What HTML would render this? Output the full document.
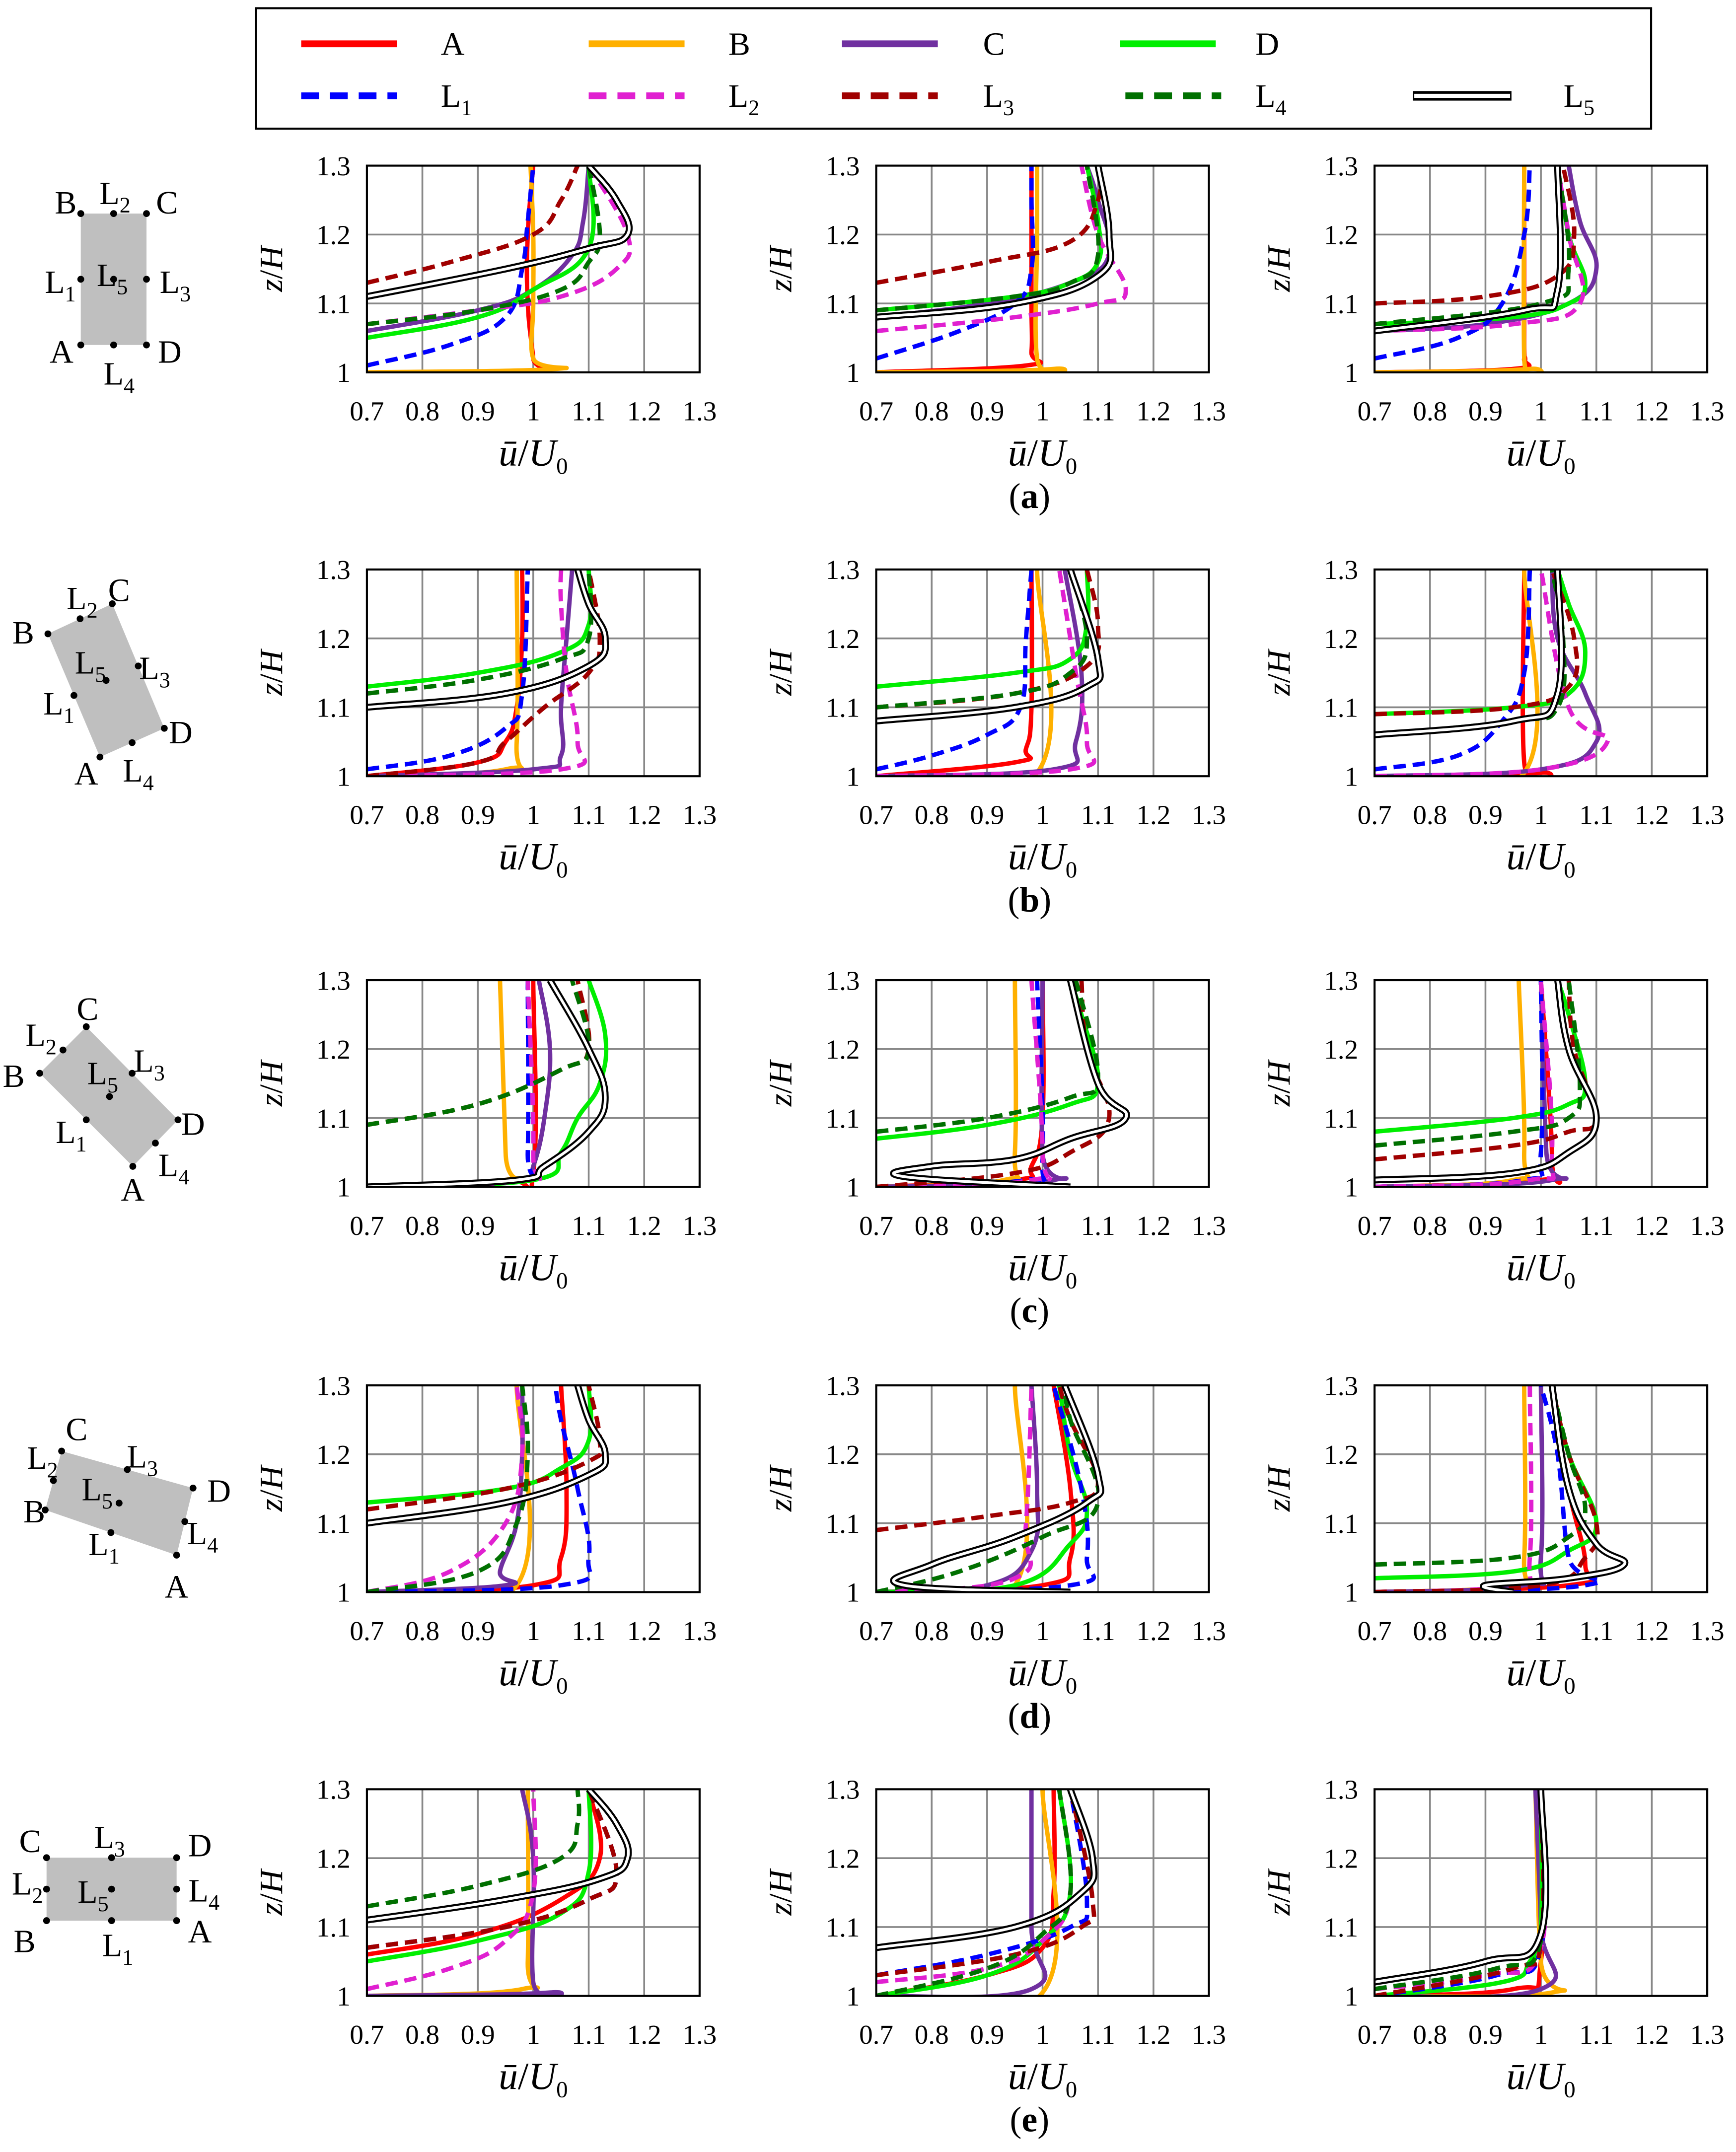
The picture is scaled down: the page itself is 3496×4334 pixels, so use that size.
<!DOCTYPE html>
<html><head><meta charset="utf-8"><style>
html,body{margin:0;padding:0;background:#fff;}
svg{display:block;}
text{font-family:"Liberation Serif",serif;fill:#000;}
</style></head><body>
<svg id="fig" xmlns="http://www.w3.org/2000/svg" width="3496" height="4334" viewBox="0 0 1268 1572" preserveAspectRatio="none">
<rect x="0" y="0" width="1268" height="1572" fill="#fff"/>
<g id="legend"></g>
<g id="schem"></g>
<g id="plots"></g>
</svg>
<script>
// Panel order: a1,a2,a3,b1,b2,b3,c1,c2,c3,d1,d2,d3,e1,e2,e3 ; points are [u/U0, z/H]
const xTicks = [0.7,0.8,0.9,1,1.1,1.2,1.3];
const yTicks = [1,1.1,1.2,1.3];
const xTickLabels = ["0.7","0.8","0.9","1","1.1","1.2","1.3"];
const yTickLabels = ["1","1.1","1.2","1.3"];
const panelLetters = ["(a)","(b)","(c)","(d)","(e)"];
const seriesNames = ["A","B","C","D","L1","L2","L3","L4","L5"];
const seriesA = [
[[0.7,1.0],[1.0,1.003],[1.0,1.02],[0.99,1.1],[0.99,1.2],[1.0,1.3]],
[[0.7,1.0],[0.97,1.01],[0.98,1.03],[0.98,1.1],[0.98,1.2],[0.98,1.3]],
[[0.7,1.0],[0.95,1.005],[0.97,1.02],[0.97,1.05],[0.97,1.3]],
[[0.7,1.0],[0.9,1.02],[0.95,1.05],[0.97,1.1],[0.98,1.2],[0.98,1.3]],
[[0.7,1.0],[0.95,1.02],[0.97,1.04],[0.98,1.1],[0.98,1.3]],
[[0.7,1.0],[1.0,1.005],[0.97,1.02],[0.97,1.3]],
[[0.7,1.0],[0.95,1.01],[1.0,1.02],[1.0,1.3]],
[[0.7,1.0],[0.95,1.01],[0.98,1.03],[1.0,1.1],[1.0,1.3]],
[[0.7,1.0],[1.0,1.01],[1.02,1.04],[1.0,1.3]],
[[0.7,1.0],[1.0,1.01],[1.05,1.05],[1.06,1.15],[1.05,1.3]],
[[0.7,1.0],[1.0,1.01],[1.05,1.05],[1.05,1.15],[1.02,1.3]],
[[0.7,1.0],[1.05,1.01],[1.08,1.04],[1.05,1.15],[1.02,1.3]],
[[0.7,1.06],[0.9,1.09],[1.05,1.14],[1.12,1.2],[1.1,1.3]],
[[0.7,1.0],[0.9,1.03],[1.0,1.07],[1.02,1.15],[1.02,1.3]],
[[0.7,1.0],[0.95,1.01],[1.0,1.05],[1.0,1.3]]];
const seriesB = [
[[0.7,1.0],[1.04,1.005],[1.0,1.02],[1.0,1.1],[1.0,1.2],[0.995,1.3]],
[[0.7,1.0],[1.02,1.005],[0.99,1.02],[0.99,1.2],[0.99,1.3]],
[[0.7,1.0],[0.98,1.005],[0.97,1.02],[0.97,1.3]],
[[0.7,1.0],[0.95,1.01],[0.97,1.05],[0.97,1.3]],
[[0.7,1.0],[0.99,1.005],[0.99,1.3]],
[[0.7,1.0],[0.97,1.005],[0.97,1.3]],
[[0.7,1.0],[0.95,1.01],[0.95,1.05],[0.94,1.3]],
[[0.7,1.0],[0.93,1.01],[0.95,1.05],[0.95,1.3]],
[[0.7,1.0],[0.95,1.01],[0.97,1.05],[0.96,1.3]],
[[0.7,1.0],[0.97,1.01],[0.97,1.3]],
[[0.7,1.0],[0.95,1.01],[0.95,1.3]],
[[0.7,1.0],[0.95,1.01],[0.97,1.05],[0.97,1.3]],
[[0.7,1.0],[0.98,1.01],[0.99,1.05],[0.99,1.3]],
[[0.7,1.0],[1.0,1.005],[1.0,1.3]],
[[0.7,1.0],[1.02,1.005],[1.0,1.05],[0.99,1.3]]];
const seriesC = [
[[0.7,1.06],[0.9,1.09],[1.0,1.12],[1.07,1.17],[1.09,1.22],[1.1,1.3]],
[[0.7,1.08],[0.9,1.1],[1.05,1.13],[1.12,1.17],[1.1,1.25],[1.08,1.3]],
[[0.7,1.06],[0.9,1.07],[1.05,1.1],[1.1,1.15],[1.07,1.22],[1.05,1.3]],
[[0.7,1.0],[1.0,1.01],[1.05,1.03],[1.05,1.1],[1.06,1.2],[1.07,1.3]],
[[0.7,1.0],[1.02,1.01],[1.06,1.05],[1.07,1.15],[1.04,1.3]],
[[0.7,1.0],[1.0,1.01],[1.1,1.05],[1.08,1.12],[1.03,1.2],[1.02,1.3]],
[[0.7,1.0],[0.98,1.01],[1.0,1.03],[1.02,1.1],[1.03,1.2],[1.01,1.3]],
[[0.7,1.0],[1.02,1.01],[1.0,1.05],[1.0,1.3]],
[[0.7,1.0],[1.02,1.01],[1.01,1.05],[1.0,1.3]],
[[0.7,1.0],[0.95,1.01],[0.94,1.03],[0.97,1.1],[0.98,1.2],[0.98,1.3]],
[[0.7,1.0],[0.9,1.01],[0.98,1.06],[0.99,1.15],[0.98,1.3]],
[[0.7,1.0],[0.97,1.01],[1.0,1.05],[1.0,1.3]],
[[0.7,1.0],[1.03,1.005],[1.0,1.02],[1.0,1.2],[0.98,1.3]],
[[0.7,1.0],[0.98,1.01],[0.98,1.1],[0.98,1.3]],
[[0.7,1.0],[1.0,1.01],[1.0,1.1],[0.99,1.3]]];
const seriesD = [
[[0.7,1.05],[0.9,1.08],[1.0,1.12],[1.1,1.18],[1.1,1.3]],
[[0.7,1.09],[0.95,1.11],[1.05,1.13],[1.1,1.16],[1.1,1.22],[1.08,1.3]],
[[0.7,1.07],[0.95,1.08],[1.05,1.1],[1.08,1.13],[1.05,1.2],[1.03,1.3]],
[[0.7,1.13],[0.9,1.15],[1.05,1.18],[1.1,1.22],[1.1,1.3]],
[[0.7,1.13],[0.95,1.15],[1.05,1.17],[1.08,1.22],[1.08,1.3]],
[[0.7,1.09],[0.95,1.1],[1.05,1.12],[1.08,1.18],[1.05,1.25],[1.03,1.3]],
[[0.7,1.0],[1.0,1.01],[1.05,1.05],[1.08,1.1],[1.12,1.15],[1.13,1.22],[1.1,1.3]],
[[0.7,1.07],[0.9,1.09],[1.05,1.12],[1.1,1.15],[1.07,1.25],[1.05,1.3]],
[[0.7,1.08],[0.95,1.1],[1.05,1.12],[1.08,1.15],[1.05,1.25],[1.03,1.3]],
[[0.7,1.13],[0.95,1.15],[1.05,1.18],[1.1,1.22],[1.1,1.3]],
[[0.7,1.0],[0.95,1.01],[1.05,1.07],[1.08,1.12],[1.05,1.2],[1.03,1.3]],
[[0.7,1.02],[0.95,1.03],[1.05,1.06],[1.1,1.1],[1.05,1.2],[1.02,1.3]],
[[0.7,1.05],[0.9,1.08],[1.05,1.12],[1.1,1.18],[1.1,1.3]],
[[0.7,1.0],[0.9,1.03],[1.0,1.08],[1.05,1.15],[1.03,1.3]],
[[0.7,1.0],[0.93,1.02],[0.98,1.05],[1.0,1.1],[1.0,1.3]]];
const seriesL1 = [
[[0.7,1.01],[0.85,1.04],[0.95,1.08],[0.98,1.15],[0.99,1.22],[1.0,1.3]],
[[0.7,1.02],[0.85,1.06],[0.95,1.1],[0.98,1.15],[0.98,1.25],[0.98,1.3]],
[[0.7,1.02],[0.85,1.05],[0.93,1.1],[0.97,1.2],[0.98,1.3]],
[[0.7,1.01],[0.85,1.03],[0.95,1.07],[0.98,1.12],[0.99,1.3]],
[[0.7,1.01],[0.8,1.03],[0.9,1.06],[0.96,1.1],[0.97,1.2],[0.98,1.3]],
[[0.7,1.01],[0.85,1.03],[0.93,1.08],[0.97,1.15],[0.98,1.3]],
[[0.7,1.0],[0.98,1.01],[0.99,1.05],[0.99,1.3]],
[[0.7,1.0],[0.97,1.01],[1.0,1.04],[0.99,1.3]],
[[0.7,1.0],[0.97,1.01],[1.0,1.05],[1.0,1.3]],
[[0.7,1.0],[1.05,1.01],[1.1,1.05],[1.08,1.15],[1.05,1.25],[1.04,1.3]],
[[0.7,1.0],[1.05,1.01],[1.08,1.05],[1.07,1.15],[1.02,1.3]],
[[0.7,1.0],[1.08,1.01],[1.05,1.05],[1.03,1.2],[1.0,1.3]],
[[0.7,1.07],[0.95,1.1],[1.1,1.14],[1.15,1.18],[1.1,1.3]],
[[0.7,1.03],[0.9,1.06],[1.05,1.1],[1.08,1.14],[1.05,1.3]],
[[0.7,1.0],[0.92,1.03],[1.0,1.07],[1.0,1.3]]];
const seriesL2 = [
[[0.7,1.07],[0.9,1.09],[1.05,1.11],[1.15,1.15],[1.17,1.2],[1.1,1.3]],
[[0.7,1.06],[0.95,1.08],[1.1,1.1],[1.15,1.12],[1.1,1.2],[1.07,1.3]],
[[0.7,1.06],[0.95,1.07],[1.07,1.1],[1.05,1.2],[1.03,1.3]],
[[0.7,1.0],[1.05,1.01],[1.08,1.05],[1.06,1.15],[1.05,1.25],[1.05,1.3]],
[[0.7,1.0],[1.05,1.01],[1.08,1.05],[1.06,1.15],[1.03,1.3]],
[[0.7,1.0],[1.0,1.01],[1.12,1.05],[1.05,1.1],[1.0,1.3]],
[[0.7,1.0],[0.98,1.01],[1.0,1.05],[0.99,1.3]],
[[0.7,1.0],[0.98,1.01],[1.0,1.05],[0.98,1.3]],
[[0.7,1.0],[0.98,1.01],[1.02,1.05],[1.0,1.3]],
[[0.7,1.0],[0.85,1.03],[0.95,1.1],[0.98,1.2],[0.97,1.3]],
[[0.7,1.0],[0.95,1.02],[0.97,1.1],[0.98,1.3]],
[[0.7,1.0],[0.95,1.01],[0.98,1.05],[0.98,1.3]],
[[0.7,1.01],[0.85,1.04],[0.95,1.08],[1.0,1.15],[1.0,1.3]],
[[0.7,1.02],[0.9,1.04],[1.0,1.08],[1.05,1.15],[1.03,1.3]],
[[0.7,1.01],[0.9,1.03],[1.0,1.07],[1.0,1.3]]];
const seriesL3 = [
[[0.7,1.13],[0.85,1.16],[1.0,1.2],[1.05,1.25],[1.08,1.3]],
[[0.7,1.13],[0.9,1.16],[1.05,1.19],[1.1,1.25],[1.1,1.3]],
[[0.7,1.1],[0.9,1.11],[1.03,1.14],[1.06,1.2],[1.04,1.3]],
[[0.7,1.0],[0.9,1.02],[0.95,1.05],[1.02,1.1],[1.1,1.15],[1.12,1.2],[1.1,1.3]],
[[0.7,1.1],[0.95,1.12],[1.08,1.16],[1.1,1.22],[1.08,1.3]],
[[0.7,1.09],[0.95,1.1],[1.05,1.13],[1.06,1.2],[1.02,1.3]],
[[0.7,1.09],[0.9,1.12],[1.05,1.17],[1.1,1.2],[1.08,1.3]],
[[0.7,1.0],[0.95,1.02],[1.05,1.05],[1.12,1.1],[1.08,1.2],[1.07,1.3]],
[[0.7,1.04],[0.95,1.06],[1.05,1.08],[1.1,1.1],[1.06,1.2],[1.05,1.3]],
[[0.7,1.12],[0.95,1.15],[1.1,1.19],[1.12,1.22],[1.1,1.3]],
[[0.7,1.09],[0.9,1.11],[1.05,1.13],[1.1,1.16],[1.05,1.25],[1.03,1.3]],
[[0.7,1.0],[1.0,1.01],[1.08,1.05],[1.1,1.1],[1.05,1.2],[1.02,1.3]],
[[0.7,1.07],[0.95,1.1],[1.1,1.14],[1.15,1.18],[1.1,1.3]],
[[0.7,1.03],[0.95,1.06],[1.07,1.1],[1.09,1.14],[1.05,1.3]],
[[0.7,1.0],[0.95,1.04],[1.0,1.08],[1.0,1.3]]];
const seriesL4 = [
[[0.7,1.07],[0.9,1.09],[1.05,1.12],[1.1,1.16],[1.12,1.2],[1.1,1.3]],
[[0.7,1.09],[0.95,1.11],[1.05,1.13],[1.1,1.17],[1.08,1.3]],
[[0.7,1.07],[1.0,1.1],[1.05,1.15],[1.03,1.3]],
[[0.7,1.12],[0.9,1.14],[1.05,1.17],[1.1,1.2],[1.1,1.3]],
[[0.7,1.1],[0.95,1.12],[1.05,1.15],[1.08,1.2],[1.05,1.3]],
[[0.7,1.06],[0.95,1.08],[1.03,1.1],[1.04,1.2],[1.02,1.3]],
[[0.7,1.09],[0.9,1.12],[1.05,1.17],[1.1,1.2],[1.07,1.3]],
[[0.7,1.08],[0.9,1.1],[1.05,1.13],[1.1,1.16],[1.06,1.3]],
[[0.7,1.06],[0.95,1.08],[1.05,1.1],[1.07,1.15],[1.05,1.3]],
[[0.7,1.0],[0.9,1.03],[0.97,1.1],[0.99,1.2],[0.98,1.3]],
[[0.7,1.0],[0.85,1.03],[1.0,1.08],[1.1,1.13],[1.05,1.25],[1.04,1.3]],
[[0.7,1.04],[0.95,1.05],[1.05,1.08],[1.08,1.12],[1.05,1.2],[1.02,1.3]],
[[0.7,1.13],[0.9,1.16],[1.05,1.2],[1.08,1.25],[1.08,1.3]],
[[0.7,1.0],[0.9,1.04],[1.0,1.09],[1.05,1.15],[1.03,1.3]],
[[0.7,1.01],[0.92,1.04],[1.0,1.08],[1.0,1.3]]];
const seriesL5 = [
[[0.7,1.11],[0.95,1.15],[1.1,1.18],[1.17,1.2],[1.15,1.25],[1.1,1.3]],
[[0.7,1.08],[0.95,1.1],[1.1,1.14],[1.12,1.2],[1.1,1.3]],
[[0.7,1.06],[0.97,1.09],[1.03,1.12],[1.03,1.3]],
[[0.7,1.1],[0.95,1.12],[1.1,1.16],[1.13,1.2],[1.1,1.25],[1.08,1.3]],
[[0.7,1.08],[0.95,1.1],[1.08,1.13],[1.1,1.17],[1.05,1.3]],
[[0.7,1.06],[0.95,1.08],[1.03,1.12],[1.03,1.3]],
[[0.7,1.0],[0.97,1.01],[1.02,1.03],[1.1,1.08],[1.13,1.13],[1.1,1.2],[1.03,1.3]],
[[1.05,1.0],[0.75,1.015],[0.8,1.03],[0.95,1.04],[1.05,1.07],[1.15,1.1],[1.1,1.15],[1.05,1.3]],
[[0.7,1.01],[0.95,1.02],[1.05,1.05],[1.1,1.1],[1.05,1.2],[1.03,1.3]],
[[0.7,1.1],[0.95,1.13],[1.1,1.17],[1.13,1.2],[1.1,1.25],[1.08,1.3]],
[[1.05,1.0],[0.75,1.01],[0.8,1.04],[0.95,1.08],[1.08,1.13],[1.1,1.17],[1.04,1.3]],
[[0.95,1.0],[0.9,1.01],[1.05,1.02],[1.15,1.04],[1.1,1.07],[1.05,1.15],[1.02,1.3]],
[[0.7,1.11],[0.95,1.14],[1.12,1.17],[1.17,1.2],[1.15,1.25],[1.1,1.3]],
[[0.7,1.07],[0.95,1.1],[1.07,1.15],[1.09,1.2],[1.05,1.3]],
[[0.7,1.02],[0.9,1.05],[1.0,1.09],[1.0,1.3]]];
const allSeries = [seriesA,seriesB,seriesC,seriesD,seriesL1,seriesL2,seriesL3,seriesL4,seriesL5];
const colors = ["#ff0000","#ffb000","#7030a0","#00ee00","#0000ff","#e020d0","#a00000","#007000","#000000"];
const dashed = [false,false,false,false,true,true,true,true,false];

const NS="http://www.w3.org/2000/svg";
function mk(tag,attrs,parent){const e=document.createElementNS(NS,tag);for(const k in attrs)e.setAttribute(k,attrs[k]);parent.appendChild(e);return e;}
function txt(parent,x,y,s,size,anchor){const t=mk('text',{x:x,y:y,'font-size':size,'text-anchor':anchor||'middle'},parent);t.textContent=s;return t;}
function smoothPath(P){
  if(P.length<3) return 'M'+P.map(p=>p[0].toFixed(1)+','+p[1].toFixed(1)).join(' L');
  let d='M'+P[0][0].toFixed(1)+','+P[0][1].toFixed(1);
  for(let i=0;i<P.length-1;i++){
    const p0=P[i>0?i-1:0],p1=P[i],p2=P[i+1],p3=P[i+2<P.length?i+2:P.length-1];
    const k=0.2;
    const c1=[p1[0]+(p2[0]-p0[0])*k,p1[1]+(p2[1]-p0[1])*k];
    const c2=[p2[0]-(p3[0]-p1[0])*k,p2[1]-(p3[1]-p1[1])*k];
    d+=' C'+c1[0].toFixed(1)+','+c1[1].toFixed(1)+' '+c2[0].toFixed(1)+','+c2[1].toFixed(1)+' '+p2[0].toFixed(1)+','+p2[1].toFixed(1);
  }
  return d;
}

const colX=[268,640,1004], rowY=[121,416,716,1012,1307], PW=243, PH=151;
const plots=document.getElementById('plots');
const defs=mk('defs',{},document.getElementById('fig'));
for(let r=0;r<5;r++)for(let c=0;c<3;c++){
  const idx=r*3+c, x0=colX[c], y0=rowY[r];
  const sx=u=>x0+(u-0.7)/0.6*PW, sy=z=>y0+PH-(z-1)/0.3*PH;
  const g=mk('g',{},plots);
  
  
  const cp=mk('clipPath',{id:'cp'+idx},defs);
  mk('rect',{x:x0,y:y0,width:PW,height:PH},cp);
  xTicks.forEach((t,i)=>{
    if(i>0&&i<xTicks.length-1) mk('line',{x1:sx(t),x2:sx(t),y1:y0,y2:y0+PH,stroke:'#888','stroke-width':1.3},g);
    const l=txt(g,sx(t),y0+PH+35,xTickLabels[i],20);
    
    
  });
  yTicks.forEach((t,i)=>{
    if(i>0&&i<yTicks.length-1) mk('line',{x1:x0,x2:x0+PW,y1:sy(t),y2:sy(t),stroke:'#888','stroke-width':1.3},g);
    const l=txt(g,x0-12,sy(t)+7,yTickLabels[i],20,'end');
    
    
  });
  const lg=mk('g',{'clip-path':'url(#cp'+idx+')'},g);
  allSeries.forEach((s,si)=>{
    const P=s[idx].map(p=>[sx(p[0]),sy(p[1])]);
    const d=smoothPath(P);
    if(si===8){
      const a=mk('path',{d:d,fill:'none',stroke:'#000','stroke-width':5,'stroke-linejoin':'round'},lg);
      
      
      mk('path',{d:d,fill:'none',stroke:'#fff','stroke-width':2,'stroke-linejoin':'round'},lg);
    } else {
      const a=mk('path',{d:d,fill:'none',stroke:colors[si],'stroke-width':3.2,'stroke-linejoin':'round','stroke-dasharray':dashed[si]?'9,5':'none'},lg);
      
      
    }
  });
  mk('rect',{x:x0,y:y0,width:PW,height:PH,fill:'none',stroke:'#000','stroke-width':1.5},g);
  const xl=mk('text',{x:x0+PW/2,y:y0+PH+68,'font-size':28,'text-anchor':'middle'},g);
  
  
  xl.innerHTML='<tspan font-style="italic">ū</tspan>/<tspan font-style="italic">U</tspan><tspan font-size="17" dy="6">0</tspan>';
  const yl=mk('text',{x:0,y:0,'font-size':24,'text-anchor':'middle',transform:'translate('+(x0-62)+','+(y0+PH/2)+') rotate(-90)'},g);
  
  
  yl.innerHTML='<tspan font-style="italic">z</tspan>/<tspan font-style="italic">H</tspan>';
}
for(let r=0;r<5;r++){
  const t=mk('text',{x:752,y:rowY[r]+PH+99,'font-size':26,'text-anchor':'middle'},plots);
  
  
  t.innerHTML='(<tspan font-weight="bold">'+panelLetters[r][1]+'</tspan>)';
}
// legend
const leg=document.getElementById('legend');
mk('rect',{x:187,y:6,width:1019,height:88,fill:'#fff',stroke:'#000','stroke-width':1.5},leg);
const legPos=[[220,32,322],[430,32,532],[615,32,718],[818,32,917],[220,70,322],[430,70,532],[615,70,718],[822,70,917],[1032,70,1142]];
legPos.forEach((p,si)=>{
  const g=mk('g',{},leg);
  
  
  if(si===8){
    mk('line',{x1:p[0],x2:p[0]+72,y1:p[1],y2:p[1],stroke:'#000','stroke-width':7},g);
    mk('line',{x1:p[0]+1,x2:p[0]+71,y1:p[1],y2:p[1],stroke:'#fff','stroke-width':3},g);
  } else {
    mk('line',{x1:p[0],x2:p[0]+70,y1:p[1],y2:p[1],stroke:colors[si],'stroke-width':5,'stroke-dasharray':dashed[si]?'13,8':'none'},g);
  }
  const n=seriesNames[si];
  const t=mk('text',{x:p[2],y:p[1]+8,'font-size':24},g);
  if(n.length>1) t.innerHTML='L<tspan font-size="16" dy="6">'+n[1]+'</tspan>'; else t.textContent=n;
});
// schematics
const sch=document.getElementById('schem');
const shapes=[
 {A:[59,252],B:[59,156],C:[107,156],D:[107,252],lab:{A:[45,257],B:[48,148],C:[122,148],D:[124,257],L1:[44,206],L2:[84,141],L3:[128,206],L4:[87,273],L5:[82,201]}},
 {A:[73,553],B:[35,463],C:[82,441],D:[120,532],lab:{A:[63,565],B:[17,462],C:[87,431],D:[132,535],L1:[43,514],L2:[60,437],L3:[113,488],L4:[101,563],L5:[66,484]}},
 {A:[97,852],B:[29,784],C:[63,750],D:[130,818],lab:{A:[97,869],B:[10,786],C:[64,737],D:[141,821],L1:[52,827],L2:[30,756],L3:[109,775],L4:[127,851],L5:[75,784]}},
 {A:[129,1136],B:[33,1103],C:[45,1060],D:[141,1087],lab:{A:[129,1159],B:[25,1104],C:[56,1044],D:[160,1089],L1:[76,1128],L2:[31,1065],L3:[104,1064],L4:[148,1120],L5:[71,1088]}},
 {A:[129,1403],B:[34,1403],C:[34,1357],D:[129,1357],lab:{A:[146,1411],B:[18,1418],C:[22,1345],D:[146,1348],L1:[86,1421],L2:[20,1376],L3:[80,1342],L4:[149,1381],L5:[68,1382]}}
];
shapes.forEach((s,i)=>{
  const g=mk('g',{},sch);
  
  
  mk('polygon',{points:[s.A,s.B,s.C,s.D].map(p=>p.join(',')).join(' '),fill:'#bfbfbf',stroke:'none'},g);
  const mid=(p,q)=>[(p[0]+q[0])/2,(p[1]+q[1])/2];
  const dots=[s.A,s.B,s.C,s.D,mid(s.A,s.B),mid(s.B,s.C),mid(s.C,s.D),mid(s.D,s.A),mid(s.A,s.C)];
  dots.forEach(d=>mk('circle',{cx:d[0],cy:d[1],r:2.5,fill:'#000'},g));
  for(const k in s.lab){
    const p=s.lab[k];
    const t=mk('text',{x:p[0],y:p[1]+8,'font-size':24,'text-anchor':'middle'},g);
    if(k.length>1) t.innerHTML='L<tspan font-size="16" dy="6">'+k[1]+'</tspan>'; else t.textContent=k;
  }
});
</script>
</body></html>
